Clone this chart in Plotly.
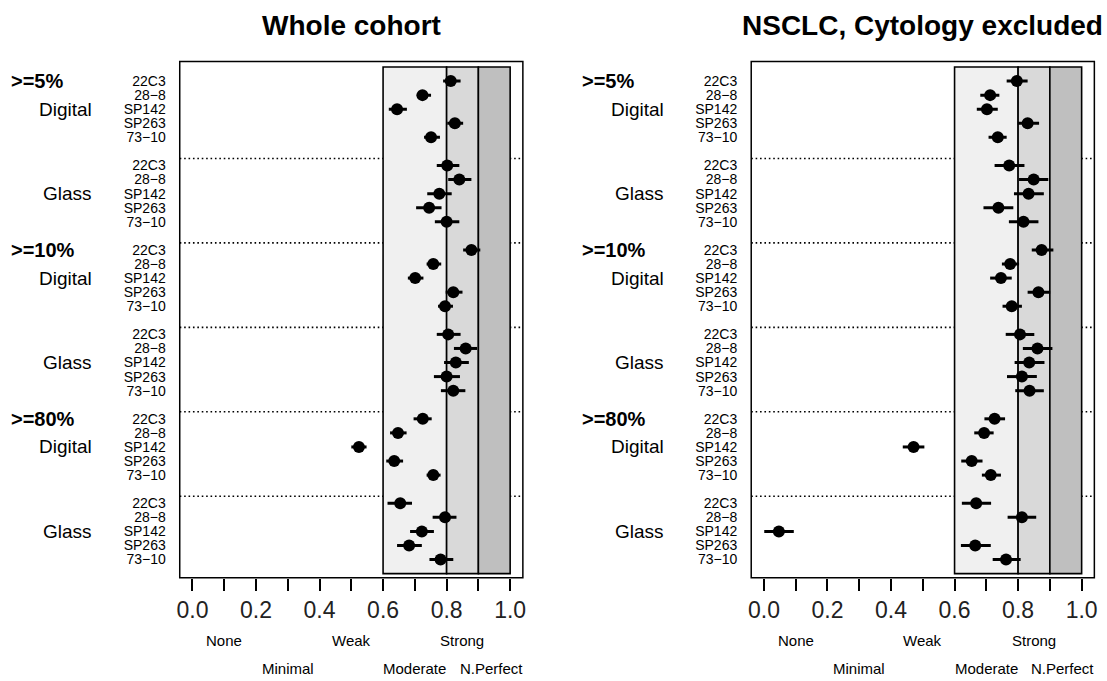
import plotly.graph_objects as go

antibodies = ["22C3", "28\u22128", "SP142", "SP263", "73\u221210"]
methods = ["Digital", "Glass"]
thresholds = [">=5%", ">=10%", ">=80%"]
panel_titles = ["Whole cohort", "NSCLC, Cytology excluded"]
x_ticks = [0.0, 0.1, 0.2, 0.3, 0.4, 0.5, 0.6, 0.7, 0.8, 0.9, 1.0]
x_ticktext = ["0.0", "", "0.2", "", "0.4", "", "0.6", "", "0.8", "", "1.0"]
bands = [0.6, 0.8, 0.9, 1.0]
band_colors = ["#f0f0f0", "#d9d9d9", "#bfbfbf"]
agreement_labels = ["None", "Minimal", "Weak", "Moderate", "Strong", "N.Perfect"]
agreement_pos = [0.1, 0.3, 0.5, 0.7, 0.85, 0.94]

# order: >=5% Digital, >=5% Glass, >=10% Digital, >=10% Glass, >=80% Digital, >=80% Glass
whole_est = [0.813, 0.724, 0.644, 0.826, 0.751,
             0.802, 0.840, 0.777, 0.745, 0.800,
             0.878, 0.758, 0.701, 0.821, 0.795,
             0.805, 0.860, 0.829, 0.800, 0.821,
             0.725, 0.647, 0.524, 0.635, 0.758,
             0.654, 0.795, 0.722, 0.682, 0.781]
whole_lo = [0.789, 0.706, 0.618, 0.802, 0.729,
            0.769, 0.805, 0.739, 0.704, 0.763,
            0.852, 0.737, 0.678, 0.797, 0.773,
            0.769, 0.823, 0.792, 0.760, 0.782,
            0.696, 0.622, 0.500, 0.610, 0.737,
            0.614, 0.756, 0.685, 0.644, 0.746]
whole_hi = [0.844, 0.751, 0.675, 0.852, 0.779,
            0.840, 0.878, 0.816, 0.784, 0.840,
            0.906, 0.783, 0.727, 0.850, 0.820,
            0.844, 0.896, 0.870, 0.842, 0.859,
            0.753, 0.674, 0.548, 0.663, 0.781,
            0.691, 0.831, 0.760, 0.722, 0.821]

nsclc_est = [0.796, 0.712, 0.702, 0.830, 0.736,
             0.772, 0.849, 0.833, 0.738, 0.817,
             0.874, 0.775, 0.746, 0.864, 0.780,
             0.806, 0.861, 0.835, 0.812, 0.836,
             0.726, 0.693, 0.471, 0.654, 0.714,
             0.668, 0.812, 0.047, 0.665, 0.762]
nsclc_lo = [0.764, 0.681, 0.670, 0.799, 0.707,
            0.726, 0.803, 0.787, 0.691, 0.771,
            0.843, 0.749, 0.712, 0.830, 0.751,
            0.761, 0.815, 0.789, 0.765, 0.791,
            0.694, 0.662, 0.437, 0.621, 0.686,
            0.623, 0.767, 0.001, 0.620, 0.720]
nsclc_hi = [0.830, 0.741, 0.736, 0.866, 0.764,
            0.820, 0.895, 0.881, 0.785, 0.864,
            0.911, 0.803, 0.780, 0.901, 0.812,
            0.851, 0.908, 0.883, 0.859, 0.881,
            0.759, 0.723, 0.505, 0.688, 0.746,
            0.715, 0.857, 0.094, 0.714, 0.808]

FONT = "Liberation Sans, Arial, sans-serif"
W, H = 1107, 681

# row positions
rows = []
row_labels = []
for g in range(len(thresholds) * len(methods)):
    for r in range(len(antibodies)):
        rows.append(g * 6 + r)
        row_labels.append(antibodies[r])
sep_rows = [g * 6 - 0.5 for g in range(1, len(thresholds) * len(methods))]

fig = go.Figure()

panels = [(whole_est, whole_lo, whole_hi), (nsclc_est, nsclc_lo, nsclc_hi)]
x_domains = [[177.7 / W, 522.7 / W], [752.3 / W, 1097.3 / W]]
y_domain = [1 - 577.7 / H, 1 - 61.5 / H]
label_left = [6, 580.6]
method_right = [91.7, 666.3]

shapes = []
annotations = []
for i, (est, lo, hi) in enumerate(panels):
    xa = "x" if i == 0 else "x2"
    ya = "y" if i == 0 else "y2"
    fig.add_trace(go.Scatter(
        x=est, y=rows, mode="markers",
        marker=dict(color="black", size=12),
        error_x=dict(type="data", symmetric=False,
                     array=[h - e for h, e in zip(hi, est)],
                     arrayminus=[e - l for e, l in zip(est, lo)],
                     color="black", thickness=3, width=0),
        xaxis=xa, yaxis=ya, showlegend=False, hoverinfo="x+y"))
    # bands
    for b in range(3):
        shapes.append(dict(type="rect", xref=xa, yref=ya, x0=bands[b], x1=bands[b + 1],
                           y0=-1, y1=35, fillcolor=band_colors[b],
                           line=dict(color="black", width=1.6), layer="below"))
    for s in sep_rows:
        shapes.append(dict(type="line", xref=xa + " domain", yref=ya, x0=0, x1=1, y0=s, y1=s,
                           line=dict(color="black", width=1.6, dash="1.6px,2.8px"), layer="below"))
    # box
    shapes.append(dict(type="rect", xref=xa + " domain", yref=ya + " domain", x0=0, x1=1, y0=0, y1=1,
                       line=dict(color="black", width=1.5), layer="above"))
    # title
    annotations.append(dict(text="<b>" + panel_titles[i] + "</b>", xref=xa + " domain", yref="paper",
                            x=0.5, y=1 - 26 / H, xanchor="center", yanchor="middle", showarrow=False,
                            font=dict(size=28, color="black", family=FONT)))
    # threshold and method labels
    for t, th in enumerate(thresholds):
        annotations.append(dict(text="<b>" + th + "</b>", xref="paper", yref=ya,
                                x=label_left[i] / W, y=t * 12, xanchor="left", yanchor="middle",
                                showarrow=False, font=dict(size=20, color="black", family=FONT)))
        for m, me in enumerate(methods):
            annotations.append(dict(text=me, xref="paper", yref=ya,
                                    x=method_right[i] / W, y=t * 12 + m * 6 + 2,
                                    xanchor="right", yanchor="middle", showarrow=False,
                                    font=dict(size=19, color="black", family=FONT)))
    # agreement labels
    for k, (lab, pos) in enumerate(zip(agreement_labels, agreement_pos)):
        annotations.append(dict(text=lab, xref=xa, yref="paper", x=pos,
                                y=1 - (640 if k % 2 == 0 else 668) / H,
                                xanchor="center", yanchor="middle", showarrow=False,
                                font=dict(size=15, color="black", family=FONT)))

axis_x = dict(range=[-0.04, 1.04], showgrid=False, zeroline=False, showline=False,
              ticks="outside", ticklen=12, tickwidth=1.5, tickcolor="black",
              tickvals=x_ticks, ticktext=x_ticktext,
              tickfont=dict(size=23, color="#222", family=FONT), fixedrange=True)
axis_y = dict(range=[35.29, -1.39], showgrid=False, zeroline=False, showline=False,
              ticks="", tickvals=rows, ticktext=row_labels, ticklabelstandoff=13,
              tickfont=dict(size=14, color="black", family=FONT), fixedrange=True)

fig.update_layout(
    width=W, height=H, margin=dict(l=0, r=0, t=0, b=0),
    paper_bgcolor="white", plot_bgcolor="white",
    xaxis=dict(axis_x, domain=x_domains[0], anchor="y"),
    yaxis=dict(axis_y, domain=y_domain, anchor="x"),
    xaxis2=dict(axis_x, domain=x_domains[1], anchor="y2"),
    yaxis2=dict(axis_y, domain=y_domain, anchor="x2"),
    shapes=shapes, annotations=annotations,
    font=dict(family=FONT, color="black"),
)

fig.write_html("out.html", config={"displayModeBar": False},
               post_script="document.body.style.margin='0';document.body.style.overflow='hidden';")
